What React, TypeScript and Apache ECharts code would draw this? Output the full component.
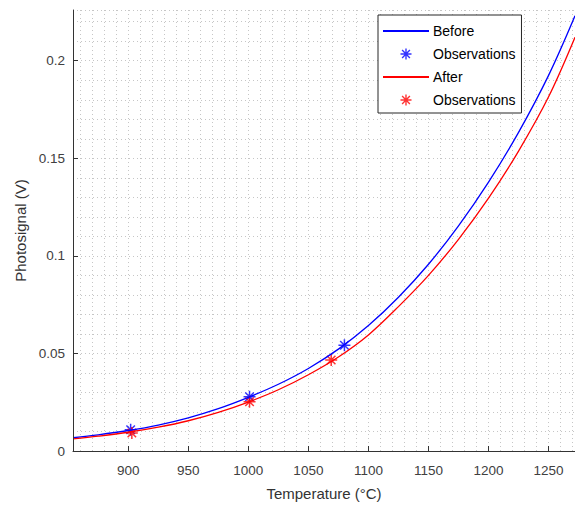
import React, { useEffect, useRef } from "react";
import * as echarts from "echarts";

// Fitted curves (temperature in °C, photosignal in V)
const temps = [854, 875, 900, 925, 950, 975, 1000, 1025, 1050, 1075, 1100, 1125, 1150, 1175, 1200, 1225, 1250, 1272];
const beforeFit = [0.0068, 0.0083, 0.0105, 0.0133, 0.017, 0.0217, 0.0275, 0.0342, 0.0423, 0.0522, 0.0643, 0.0788, 0.0957, 0.1154, 0.1378, 0.1633, 0.1925, 0.223];
const afterFit = [0.0062, 0.0076, 0.0096, 0.0122, 0.0155, 0.0198, 0.0251, 0.0314, 0.0391, 0.0482, 0.0595, 0.074, 0.09, 0.1085, 0.1296, 0.1537, 0.1815, 0.212];

// Observations
const beforeObsT = [902, 1001, 1080];
const beforeObsV = [0.0109, 0.0278, 0.0542];
const afterObsT = [903, 1001, 1069];
const afterObsV = [0.0092, 0.0252, 0.0466];

// Axis ticks
const xTicks = [900, 950, 1000, 1050, 1100, 1150, 1200, 1250];
const yTicks = [0, 0.05, 0.1, 0.15, 0.2];

const FONT = "Liberation Sans, Arial, Helvetica, sans-serif";
const ASTERISK = "path://M0,-10L0,10M-10,0L10,0M-7.07,-7.07L7.07,7.07M-7.07,7.07L7.07,-7.07";
const X_MIN = 854;
const X_MAX = 1272;
const Y_MIN = 0;
const Y_MAX = 0.226;

export default function App() {
  const ref = useRef<HTMLDivElement>(null);

  useEffect(() => {
    if (!ref.current) return;
    const chart = echarts.init(ref.current, null, { renderer: "svg" });

    const gridLine = { show: true, lineStyle: { type: [1, 3] as any, color: "#c6c6c6", width: 1 } };
    const axisLine = { show: true, lineStyle: { color: "#333", width: 1 } };
    const hidden = {
      axisLine: { show: false },
      axisTick: { show: false },
      axisLabel: { show: false },
    };

    chart.setOption({
      animation: false,
      backgroundColor: "#fff",
      grid: { left: 73, right: 0, top: 10, bottom: 56 },
      xAxis: [
        {
          type: "value",
          min: X_MIN,
          max: X_MAX,
          name: "Temperature (°C)",
          nameLocation: "middle",
          nameGap: 35,
          nameTextStyle: { fontSize: 15, color: "#333", fontFamily: FONT },
          axisLine,
          axisTick: { show: true, inside: true, length: 5, customValues: xTicks, lineStyle: { color: "#333" } },
          axisLabel: {
            customValues: xTicks,
            formatter: (v: number) => String(v),
            fontSize: 13.5,
            color: "#404040",
            fontFamily: FONT,
            margin: 12,
          },
          splitLine: { show: false },
          z: 5,
        },
        {
          type: "value",
          min: X_MIN,
          max: X_MAX,
          splitNumber: 42,
          position: "bottom",
          ...hidden,
          splitLine: gridLine,
          z: 0,
        },
      ],
      yAxis: [
        {
          type: "value",
          min: Y_MIN,
          max: Y_MAX,
          name: "Photosignal (V)",
          nameLocation: "middle",
          nameGap: 43,
          nameTextStyle: { fontSize: 15, color: "#333", fontFamily: FONT },
          axisLine,
          axisTick: { show: true, inside: true, length: 5, customValues: yTicks, lineStyle: { color: "#333" } },
          axisLabel: {
            customValues: yTicks,
            formatter: (v: number) => String(v),
            fontSize: 13.5,
            color: "#404040",
            fontFamily: FONT,
            margin: 8,
          },
          splitLine: { show: false },
          z: 5,
        },
        {
          type: "value",
          min: Y_MIN,
          max: Y_MAX,
          interval: 0.01,
          position: "left",
          ...hidden,
          splitLine: gridLine,
          z: 0,
        },
      ],
      legend: {
        orient: "vertical",
        left: 378,
        top: 15,
        padding: [9, 6, 5, 4],
        itemWidth: 46,
        itemHeight: 11,
        itemGap: 8,
        backgroundColor: "#fff",
        borderColor: "#262626",
        borderWidth: 1,
        textStyle: { fontSize: 14, color: "#000", fontFamily: FONT, padding: [0, 0, 0, -1] },
        formatter: (name: string) => (name.startsWith("Observations") ? "Observations" : name),
        data: [
          { name: "Before", itemStyle: { color: "transparent", borderColor: "transparent", borderWidth: 0 } },
          { name: "Observations (before)", itemStyle: { borderWidth: 1.4 } },
          { name: "After", itemStyle: { color: "transparent", borderColor: "transparent", borderWidth: 0 } },
          { name: "Observations (after)", itemStyle: { borderWidth: 1.4 } },
        ],
      },
      series: [
        {
          name: "Before",
          type: "line",
          data: temps.map((t, i) => [t, beforeFit[i]]),
          smooth: 0.35,
          symbol: "none",
          color: "#0000ff",
          lineStyle: { color: "#0000ff", width: 1.3 },
        },
        {
          name: "Observations (before)",
          type: "scatter",
          data: beforeObsT.map((t, i) => [t, beforeObsV[i]]),
          symbol: ASTERISK,
          symbolSize: 12,
          itemStyle: { color: "none", borderColor: "#0000ff", borderWidth: 1.5 },
        },
        {
          name: "After",
          type: "line",
          data: temps.map((t, i) => [t, afterFit[i]]),
          smooth: 0.35,
          symbol: "none",
          color: "#ff0000",
          lineStyle: { color: "#ff0000", width: 1.3 },
        },
        {
          name: "Observations (after)",
          type: "scatter",
          data: afterObsT.map((t, i) => [t, afterObsV[i]]),
          symbol: ASTERISK,
          symbolSize: 12,
          itemStyle: { color: "none", borderColor: "#ff0000", borderWidth: 1.5 },
        },
      ],
    });

    return () => chart.dispose();
  }, []);

  return (
    <div
      ref={ref}
      style={{ position: "fixed", left: 0, top: 0, width: 575, height: 507, background: "#fff" }}
    />
  );
}
